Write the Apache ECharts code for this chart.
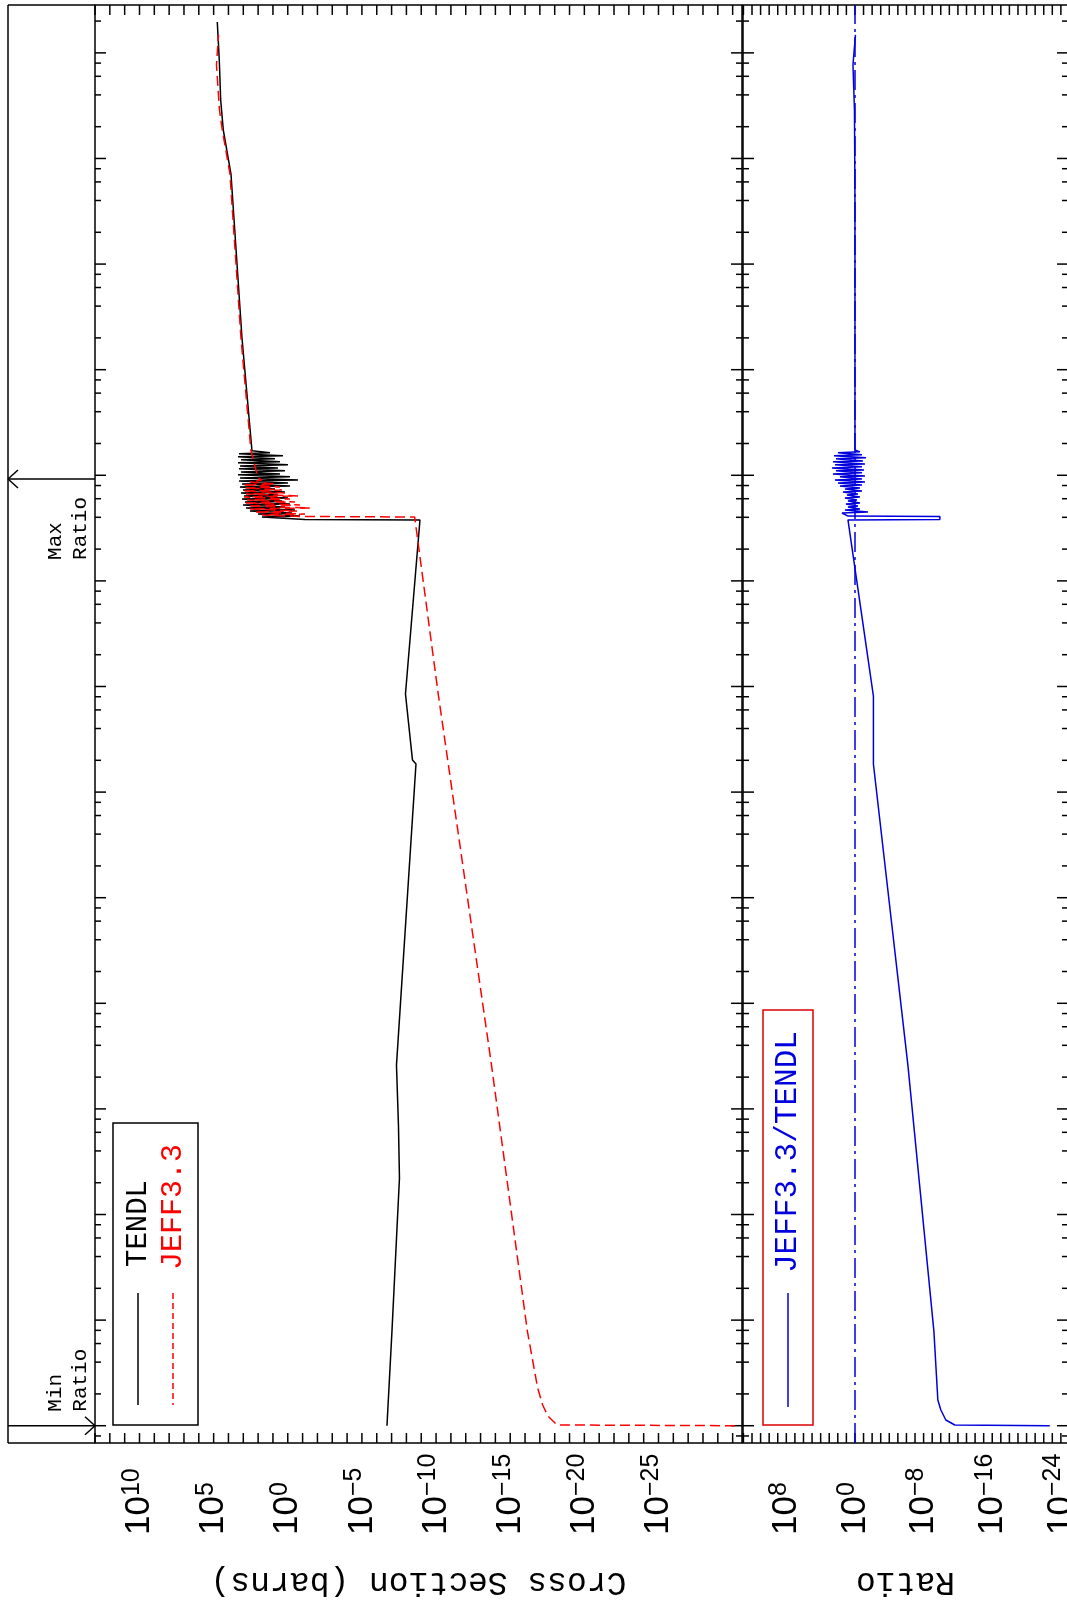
<!DOCTYPE html>
<html><head><meta charset="utf-8">
<script src="https://cdn.jsdelivr.net/npm/echarts@6/dist/echarts.min.js"></script>
<style>html,body{margin:0;padding:0;background:#fff}#c{width:1067px;height:1606px}</style>
</head><body><div id="c"></div>
<script>
// Values as log10 (energy in MeV, cross section in barns, ratio)
const tendlLogE = [-11.000,-10.104,-9.138,-8.654,-8.162,-7.585,-4.734,-4.697,-4.071,-2.423,-2.419,
 -2.395,-2.386,-2.367,-2.357,-2.338,-2.329,-2.310,-2.300,-2.281,-2.272,-2.253,-2.243,-2.224,-2.215,-2.196,-2.186,
 -2.167,-2.158,-2.139,-2.129,-2.110,-2.101,-2.082,-2.072,-2.053,-2.044,-2.025,-2.015,-1.996,-1.987,-1.968,-1.958,
 -1.939,-1.930,-1.911,-1.901,-1.882,-1.873,-1.854,-1.844,-1.825,-1.816,-1.797,-1.787,-1.768,
 -0.700,0.852,1.270,1.554,1.933,2.293];
const tendlLogXS = [-6.689,-7.026,-7.363,-7.532,-7.465,-7.330,-8.645,-8.409,-7.937,-8.914,-1.160,
 1.740,-0.823,2.009,-0.283,2.549,-0.486,2.819,0.189,3.021,-0.148,2.886,0.391,3.088,-0.013,2.954,0.661,
 3.156,0.189,3.021,0.863,3.223,-0.148,3.088,-0.013,3.290,-0.688,3.223,-0.148,3.358,0.526,3.156,0.189,
 3.290,0.661,3.223,-0.013,3.358,0.526,3.156,0.863,3.358,0.324,3.290,1.200,2.414,
 3.088,3.830,4.349,4.525,4.619,4.754];

const jeffLogE = [-11.000,-10.993,-10.956,-10.909,-10.804,-10.639,-10.104,-7.583,-4.074,-2.395,-2.390,
 -2.376,-2.367,-2.348,-2.338,-2.319,-2.310,-2.291,-2.281,-2.262,-2.253,-2.234,-2.224,-2.205,-2.196,-2.177,-2.167,
 -2.148,-2.139,-2.120,-2.110,-2.091,-2.082,-2.063,-2.044,-2.025,-1.768,-0.700,0.852,1.289,1.459,1.885,2.170];
const jeffLogXS = [-30.155,-18.152,-17.883,-17.545,-17.188,-16.844,-16.156,-13.736,-10.148,-8.557,-0.823,
 1.740,-1.160,2.212,-0.620,2.549,-1.497,2.684,-0.823,2.886,-0.486,2.751,-0.148,2.954,-0.688,2.819,0.189,
 3.021,0.391,2.886,0.526,3.021,0.863,2.549,1.740,2.009,2.481,3.156,3.897,4.437,4.605,4.808,4.673];

const ratioLogE = [-11.000,-10.993,-10.946,-10.851,-10.756,-10.104,-7.585,-4.734,-4.091,-2.423,-2.419,-2.390,-2.386,
 -2.357,-2.348,-2.329,-2.319,-2.300,-2.291,-2.272,-2.262,-2.243,-2.234,-2.215,-2.205,-2.186,-2.177,-2.158,-2.148,
 -2.129,-2.120,-2.101,-2.091,-2.072,-2.063,-2.044,-2.035,-2.015,-2.006,-1.987,-1.977,-1.958,-1.949,-1.930,-1.920,
 -1.901,-1.892,-1.873,-1.864,-1.844,-1.835,-1.816,-1.806,-1.787,-1.778,-1.759,0.607,1.459,1.885,2.170];
const ratioLogR = [-22.70,-11.64,-10.59,-10.01,-9.66,-9.20,-6.17,-2.15,-2.15,0.815,-9.895,-9.895,0.815,
 1.513,-1.513,1.164,-0.582,0.815,-0.349,1.048,-0.582,0.815,-0.233,1.164,-0.582,0.931,-0.349,1.397,-0.815,
 1.164,-0.582,1.746,-0.815,1.979,-1.164,2.328,-0.815,1.746,-1.164,2.561,-0.815,2.212,-1.048,2.678,-0.815,
 2.328,-1.164,2.561,-0.931,2.212,-1.281,2.445,-0.815,1.979,-0.582,0.000,0.000,0.058,0.233,-0.058];

// Axis ranges and tick labels
const energyMin = 6.86e-12, energyMax = 284;
const xsMin = 2.34e-31, xsMax = 1e13;
const ratioMin = 1.48e-25, ratioMax = 1.12e13;
const xsLabelExp = [10,5,0,-5,-10,-15,-20,-25];
const ratioLabelExp = [8,0,-8,-16,-24];
const energyMajorExp = [-11,-10,-9,-8,-7,-6,-5,-4,-3,-2,-1,0,1,2];
const energyMinorMult = [2,4,6,8];
const xsTickExp = [13,12,11,10,9,8,7,6,5,4,3,2,1,0,-1,-2,-3,-4,-5,-6,-7,-8,-9,-10,-11,-12,-13,-14,-15,-16,-17,-18,-19,-20,-21,-22,-23,-24,-25,-26,-27,-28,-29,-30];
const ratioTickExp = [13,12,11,10,9,8,7,6,5,4,3,2,1,0,-1,-2,-3,-4,-5,-6,-7,-8,-9,-10,-11,-12,-13,-14,-15,-16,-17,-18,-19,-20,-21,-22,-23,-24];
const minRatioEnergy = 1e-11, maxRatioEnergy = 9.23e-3;

const p10 = v => Math.pow(10, v);
const pair = (ex, ey) => ex.map((v, i) => [p10(ey[i]), p10(v)]);

// energy tick data [x, energy, isMajor]
const eTicks = [];
energyMajorExp.forEach(d => eTicks.push([1, p10(d), 1]));
[-12].concat(energyMajorExp).forEach(d => energyMinorMult.forEach(m => {
  const v = m * p10(d); if (v > energyMin && v < energyMax) eTicks.push([1, v, 0]);
}));

const BLK = '#000';
function energyTickRender(params, api) {
  const y = api.coord([1, api.value(1)])[1];
  const cs = params.coordSys;
  const len = api.value(2) ? 11 : 6;
  return { type: 'group', children: [
    { type: 'line', shape: { x1: cs.x, y1: y, x2: cs.x + len, y2: y }, style: { stroke: BLK, lineWidth: 1.5 } },
    { type: 'line', shape: { x1: cs.x + cs.width, y1: y, x2: cs.x + cs.width - len, y2: y }, style: { stroke: BLK, lineWidth: 1.5 } }
  ]};
}
function valueTickRender(params, api) {
  const x = api.coord([api.value(0), 1])[0];
  const cs = params.coordSys;
  return { type: 'group', children: [
    { type: 'line', shape: { x1: x, y1: cs.y + cs.height, x2: x, y2: cs.y + cs.height - 10 }, style: { stroke: BLK, lineWidth: 1.5 } },
    { type: 'line', shape: { x1: x, y1: cs.y, x2: x, y2: cs.y + 10 }, style: { stroke: BLK, lineWidth: 1.5 } }
  ]};
}
const labelFmt = v => {
  const ex = Math.round(Math.log10(v));
  return '{b|10}{e|' + (ex < 0 ? '\u2212' : '') + Math.abs(ex) + '}';
};
const labelRich = {
  b: { fontSize: 35, fontFamily: 'Liberation Sans', color: BLK, lineHeight: 40 },
  e: { fontSize: 25, fontFamily: 'Liberation Sans', color: BLK, verticalAlign: 'top', lineHeight: 40 }
};
function xAxisCfg(gi, min, max, labels, name) {
  return {
    type: 'log', gridIndex: gi, inverse: true, min: min, max: max, logBase: 10,
    axisLine: { show: false }, axisTick: { show: false }, splitLine: { show: false }, minorTick: { show: false },
    axisLabel: { customValues: labels.map(p10), rotate: 90, align: 'left', verticalAlign: 'middle', margin: 92,
      formatter: labelFmt, rich: labelRich, hideOverlap: false, showMinLabel: true, showMaxLabel: true },
    name: name, nameLocation: 'middle', nameRotate: 180, nameGap: 122,
    nameTextStyle: { fontFamily: 'Liberation Mono', fontSize: 33, color: BLK }
  };
}
function yAxisCfg(gi) {
  return { type: 'log', gridIndex: gi, min: energyMin, max: energyMax, logBase: 10,
    axisLine: { show: false }, axisTick: { show: false }, axisLabel: { show: false }, splitLine: { show: false } };
}

const chart = echarts.init(document.getElementById('c'), null, { renderer: 'canvas' });
chart.setOption({
  animation: false,
  backgroundColor: '#fff',
  grid: [
    { left: 95, top: 5, width: 647, height: 1438, show: true, borderColor: BLK, borderWidth: 1.5, backgroundColor: 'transparent', outerBoundsMode: 'none', containLabel: false },
    { left: 743, top: 5, width: 325, height: 1438, show: true, borderColor: BLK, borderWidth: 1.5, backgroundColor: 'transparent', outerBoundsMode: 'none', containLabel: false }
  ],
  xAxis: [ xAxisCfg(0, xsMin, xsMax, xsLabelExp, 'Cross Section (barns)'), xAxisCfg(1, ratioMin, ratioMax, ratioLabelExp, 'Ratio') ],
  yAxis: [ yAxisCfg(0), yAxisCfg(1) ],
  series: [
    { type: 'custom', xAxisIndex: 0, yAxisIndex: 0, data: eTicks, renderItem: energyTickRender, silent: true, z: 1 },
    { type: 'custom', xAxisIndex: 1, yAxisIndex: 1, data: eTicks, renderItem: energyTickRender, silent: true, z: 1 },
    { type: 'custom', xAxisIndex: 0, yAxisIndex: 0, data: xsTickExp.map(e => [p10(e), 1]), renderItem: valueTickRender, silent: true, z: 1 },
    { type: 'custom', xAxisIndex: 1, yAxisIndex: 1, data: ratioTickExp.map(e => [p10(e), 1]), renderItem: valueTickRender, silent: true, z: 1 },
    { name: 'TENDL', type: 'line', xAxisIndex: 0, yAxisIndex: 0, data: pair(tendlLogE, tendlLogXS), symbol: 'none',
      lineStyle: { color: BLK, width: 1.5 }, z: 3, silent: true },
    { name: 'JEFF3.3', type: 'line', xAxisIndex: 0, yAxisIndex: 0, data: pair(jeffLogE, jeffLogXS), symbol: 'none',
      lineStyle: { color: '#ff0000', width: 1.5, type: [10, 5] }, z: 4, silent: true },
    { name: 'JEFF3.3/TENDL', type: 'line', xAxisIndex: 1, yAxisIndex: 1, data: pair(ratioLogE, ratioLogR), symbol: 'none',
      lineStyle: { color: '#0000dd', width: 1.5 }, z: 3, silent: true,
      markLine: { silent: true, symbol: 'none', label: { show: false },
        lineStyle: { color: '#0000dd', width: 1.5, type: [20, 5, 3, 5] }, data: [{ xAxis: 1 }] } }
  ]
});

// Frame, legends and annotations
const yMin = chart.convertToPixel({ yAxisIndex: 0 }, minRatioEnergy);
const yMax = chart.convertToPixel({ yAxisIndex: 0 }, maxRatioEnergy);
const ln = (x1, y1, x2, y2, stroke, w, dash) => ({ type: 'line', shape: { x1, y1, x2, y2 }, style: { stroke: stroke || BLK, lineWidth: w || 1.5, lineDash: dash || null }, z: 10 });
const vtext = (x, y, text, size, color) => ({ type: 'text', x: x, y: y, rotation: Math.PI / 2,
  style: { text: text, fontSize: size, fontFamily: 'Liberation Mono', fill: color || BLK, align: 'left', verticalAlign: 'middle' }, z: 10 });
chart.setOption({ graphic: [
  ln(8, 5, 8, 1443), ln(8, 5, 95, 5), ln(8, 1443, 95, 1443),
  // min ratio arrow
  ln(8, yMin, 95, yMin), ln(85, yMin - 9, 95, yMin), ln(85, yMin + 9, 95, yMin),
  vtext(55, yMin - 14, 'Min', 21), vtext(80, yMin - 14, 'Ratio', 21),
  // max ratio arrow
  ln(8, yMax, 95, yMax), ln(8, yMax, 18, yMax - 9), ln(8, yMax, 18, yMax + 9),
  vtext(55, yMax + 81, 'Max', 21), vtext(80, yMax + 81, 'Ratio', 21),
  // cross section legend
  { type: 'rect', shape: { x: 113, y: 1123, width: 85, height: 302 }, style: { fill: '#fff', stroke: BLK, lineWidth: 1.5 }, z: 9 },
  ln(138, 1293, 138, 1405, BLK, 1.5),
  vtext(138, 1267, 'TENDL', 29, BLK),
  ln(173, 1293, 173, 1405, '#ff0000', 1.5, [6, 4]),
  vtext(173, 1270, 'JEFF3.3', 30, '#ff0000'),
  // ratio legend
  { type: 'rect', shape: { x: 763, y: 1010, width: 50, height: 415 }, style: { fill: '#fff', stroke: '#dd0000', lineWidth: 1.5 }, z: 9 },
  ln(788, 1293, 788, 1407, '#0000dd', 1.5),
  vtext(788, 1273, 'JEFF3.3/TENDL', 31, '#0000dd')
]});
</script></body></html>
